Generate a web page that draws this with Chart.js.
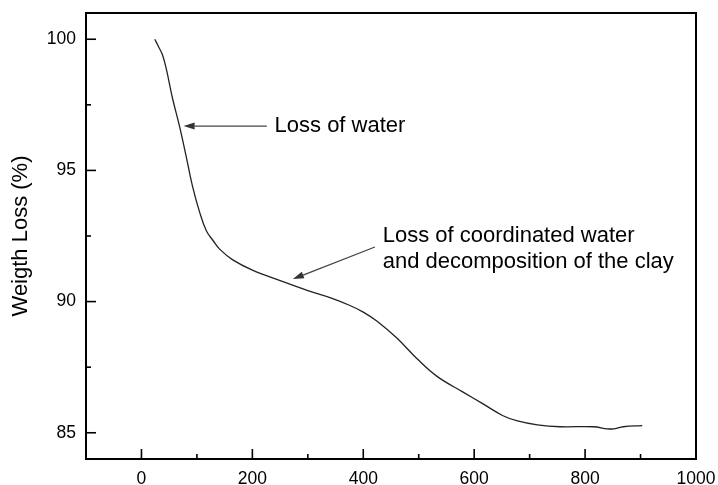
<!DOCTYPE html>
<html>
<head>
<meta charset="utf-8">
<script src="https://cdn.jsdelivr.net/npm/chart.js@4/dist/chart.umd.min.js"></script>
<style>
  html, body { margin: 0; padding: 0; background: #fff; }
  #wrap { width: 718px; height: 485px; }
</style>
</head>
<body>
<div id="wrap"><canvas id="tga"></canvas></div>
<script>
// TGA curve
const temperature = [24, 30, 38, 45, 56, 69, 81, 92, 105, 117, 130, 141, 164, 200, 250, 300, 340, 376, 400, 425, 461, 497, 533, 580, 616, 652, 678, 714, 755, 815, 840, 851, 869, 903];
const weightLoss = [100, 99.75, 99.4, 98.85, 97.75, 96.65, 95.5, 94.4, 93.4, 92.7, 92.3, 92.0, 91.6, 91.2, 90.8, 90.42, 90.15, 89.85, 89.6, 89.25, 88.6, 87.82, 87.15, 86.55, 86.1, 85.65, 85.45, 85.3, 85.23, 85.23, 85.15, 85.15, 85.23, 85.27];

const xTicks = [-100, 0, 100, 200, 300, 400, 500, 600, 700, 800, 900, 1000];
const xLabels = [0, 200, 400, 600, 800, 1000];
const yTicks = [85, 87.5, 90, 92.5, 95, 97.5, 100];
const yLabels = [85, 90, 95, 100];

// annotations: text lines, text anchors, arrow tail and tip, all in data units
const noteText = [["Loss of water"], ["Loss of coordinated water", "and decomposition of the clay"]];
const noteTextPos = [[[240, 96.69]], [[435, 92.52], [435, 91.53]]];
const noteArrowFrom = [[226, 96.69], [421, 92.08]];
const noteArrowTo = [[76, 96.69], [273, 90.86]];

const FONT = "'Liberation Sans', Arial, sans-serif";

// frame + inward tick marks
const framePlugin = {
  id: "frame",
  afterDraw(chart) {
    const { ctx, chartArea: a, scales } = chart;
    ctx.save();
    ctx.strokeStyle = "#000";
    ctx.lineWidth = 2;
    ctx.strokeRect(a.left, a.top, a.right - a.left, a.bottom - a.top);

    ctx.lineWidth = 1.6;
    scales.x.ticks.forEach(t => {
      const px = scales.x.getPixelForValue(t.value);
      const len = xLabels.includes(t.value) ? 10 : 5;
      ctx.beginPath();
      ctx.moveTo(px, a.bottom);
      ctx.lineTo(px, a.bottom - len);
      ctx.stroke();
    });
    scales.y.ticks.forEach(t => {
      const py = scales.y.getPixelForValue(t.value);
      const len = yLabels.includes(t.value) ? 10 : 5;
      ctx.beginPath();
      ctx.moveTo(a.left, py);
      ctx.lineTo(a.left + len, py);
      ctx.stroke();
    });
    ctx.restore();
  }
};

// arrows and labels
const notePlugin = {
  id: "notes",
  afterDatasetsDraw(chart) {
    const { ctx, scales: { x, y } } = chart;
    ctx.save();
    ctx.strokeStyle = "#444";
    ctx.fillStyle = "#333";
    ctx.lineWidth = 1.3;
    noteArrowFrom.forEach((from, i) => {
      const x0 = x.getPixelForValue(from[0]), y0 = y.getPixelForValue(from[1]);
      const x1 = x.getPixelForValue(noteArrowTo[i][0]), y1 = y.getPixelForValue(noteArrowTo[i][1]);
      const ang = Math.atan2(y1 - y0, x1 - x0);
      const head = 11, half = 3.5;
      ctx.beginPath();
      ctx.moveTo(x0, y0);
      ctx.lineTo(x1 - Math.cos(ang) * head, y1 - Math.sin(ang) * head);
      ctx.stroke();
      ctx.beginPath();
      ctx.moveTo(x1, y1);
      ctx.lineTo(x1 - Math.cos(ang) * head - Math.sin(ang) * half, y1 - Math.sin(ang) * head + Math.cos(ang) * half);
      ctx.lineTo(x1 - Math.cos(ang) * head + Math.sin(ang) * half, y1 - Math.sin(ang) * head - Math.cos(ang) * half);
      ctx.closePath();
      ctx.fill();
    });
    ctx.fillStyle = "#000";
    ctx.font = "22px " + FONT;
    ctx.textAlign = "left";
    ctx.textBaseline = "middle";
    noteText.forEach((lines, i) => {
      lines.forEach((line, j) => {
        const p = noteTextPos[i][j];
        ctx.fillText(line, x.getPixelForValue(p[0]), y.getPixelForValue(p[1]));
      });
    });
    ctx.restore();
  }
};

new Chart(document.getElementById("tga"), {
  type: "line",
  data: {
    datasets: [{
      data: temperature.map((t, i) => ({ x: t, y: weightLoss[i] })),
      borderColor: "#222",
      borderWidth: 1.3,
      pointRadius: 0,
      tension: 0.4,
      fill: false
    }]
  },
  options: {
    responsive: true,
    maintainAspectRatio: false,
    animation: false,
    layout: { padding: { top: 13, right: 22, bottom: 0, left: 0 } },
    plugins: { legend: { display: false }, tooltip: { enabled: false } },
    scales: {
      x: {
        type: "linear",
        min: -100,
        max: 1000,
        border: { display: false },
        grid: { display: false, drawTicks: false },
        afterBuildTicks: s => { s.ticks = xTicks.map(v => ({ value: v })); },
        afterFit: s => { s.height = 26; s.paddingLeft = 0; s.paddingRight = 0; },
        ticks: {
          autoSkip: false,
          maxRotation: 0,
          padding: 10,
          color: "#000",
          font: { family: FONT, size: 17.5 },
          callback: v => (xLabels.includes(v) ? String(v) : "")
        }
      },
      y: {
        type: "linear",
        min: 84,
        max: 101,
        border: { display: false },
        grid: { display: false, drawTicks: false },
        afterBuildTicks: s => { s.ticks = yTicks.map(v => ({ value: v })); },
        afterFit: s => { s.width = 86; s.paddingTop = 0; s.paddingBottom = 0; },
        title: {
          display: true,
          text: "Weigth Loss (%)",
          color: "#000",
          font: { family: FONT, size: 22 },
          padding: { top: 8, bottom: 0 }
        },
        ticks: {
          autoSkip: false,
          padding: 10,
          color: "#000",
          font: { family: FONT, size: 17.5 },
          callback: v => (yLabels.includes(v) ? String(v) : "")
        }
      }
    }
  },
  plugins: [framePlugin, notePlugin]
});
</script>
</body>
</html>
